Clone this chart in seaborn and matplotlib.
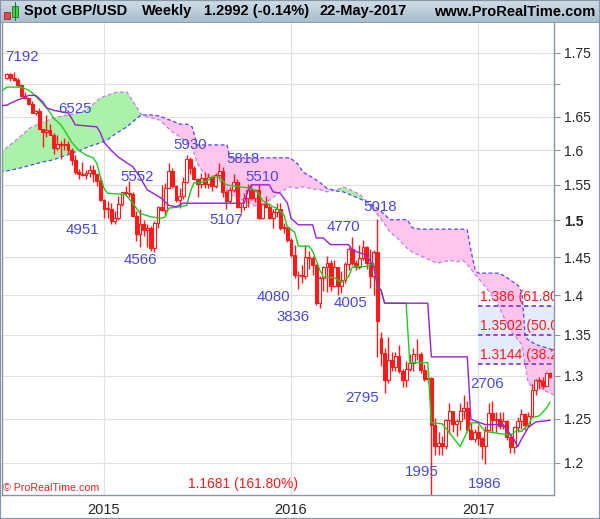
import numpy as np
import pandas as pd
import matplotlib
matplotlib.use("Agg")
import matplotlib.pyplot as plt
from matplotlib.colors import LinearSegmentedColormap
from matplotlib.patches import Rectangle
import seaborn as sns

# weekly GBP/USD candles, first week 30-Jun-2014, last week 22-May-2017
first_week = "2014-06-30"
open_ = [1.7105, 1.7160, 1.7105, 1.7075, 1.6985, 1.6825, 1.6790, 1.6695,
         1.6565, 1.6595, 1.6315, 1.6265, 1.6300, 1.6225, 1.6040, 1.6090,
         1.6085, 1.6090, 1.6000, 1.5860, 1.5680, 1.5660, 1.5645, 1.5665,
         1.5715, 1.5650, 1.5560, 1.5290, 1.5160, 1.5165, 1.4995, 1.5035,
         1.5235, 1.5395, 1.5390, 1.5375, 1.5055, 1.4815, 1.4945, 1.4865,
         1.4900, 1.4625, 1.4965, 1.5180, 1.5140, 1.5450, 1.5700, 1.5490,
         1.5285, 1.5345, 1.5545, 1.5880, 1.5745, 1.5580, 1.5510, 1.5600,
         1.5510, 1.5610, 1.5485, 1.5640, 1.5700, 1.5405, 1.5265, 1.5425,
         1.5545, 1.5185, 1.5180, 1.5310, 1.5430, 1.5315, 1.5420, 1.5040,
         1.5230, 1.5190, 1.5035, 1.5120, 1.5160, 1.4895, 1.4905, 1.4735,
         1.4535, 1.4260, 1.4270, 1.4250, 1.4500, 1.4495, 1.4400, 1.3905,
         1.4230, 1.4365, 1.4425, 1.4120, 1.4370, 1.4125, 1.4195, 1.4405,
         1.4615, 1.4430, 1.4375, 1.4490, 1.4640, 1.4420, 1.4255, 1.4575,
         1.3460, 1.3275, 1.2950, 1.3190, 1.3110, 1.3235, 1.3055, 1.2950,
         1.3080, 1.3155, 1.3265, 1.3260, 1.3070, 1.2965, 1.2970, 1.2430,
         1.2185, 1.2225, 1.2185, 1.2485, 1.2590, 1.2435, 1.2475, 1.2585,
         1.2620, 1.2365, 1.2265, 1.2340, 1.2275, 1.2185, 1.2370, 1.2560,
         1.2485, 1.2490, 1.2410, 1.2470, 1.2290, 1.2175, 1.2400, 1.2475,
         1.2550, 1.2425, 1.2530, 1.2835, 1.2955, 1.2940, 1.2885, 1.3030]
high_ = [1.7180, 1.7180, 1.7192, 1.7100, 1.7015, 1.6880, 1.6800, 1.6745,
         1.6600, 1.6640, 1.6320, 1.6525, 1.6395, 1.6250, 1.6230, 1.6140,
         1.6185, 1.6135, 1.6030, 1.5935, 1.5725, 1.5825, 1.5710, 1.5785,
         1.5785, 1.5660, 1.5620, 1.5300, 1.5270, 1.5240, 1.5130, 1.5345,
         1.5400, 1.5485, 1.5552, 1.5405, 1.5130, 1.5165, 1.5000, 1.4945,
         1.4930, 1.4990, 1.5200, 1.5500, 1.5525, 1.5815, 1.5740, 1.5500,
         1.5460, 1.5615, 1.5930, 1.5900, 1.5770, 1.5600, 1.5675, 1.5690,
         1.5675, 1.5635, 1.5670, 1.5818, 1.5755, 1.5420, 1.5475, 1.5660,
         1.5585, 1.5240, 1.5385, 1.5510, 1.5505, 1.5435, 1.5510, 1.5240,
         1.5335, 1.5240, 1.5160, 1.5240, 1.5240, 1.4960, 1.4930, 1.4765,
         1.4665, 1.4315, 1.4400, 1.4670, 1.4590, 1.4515, 1.4410, 1.4250,
         1.4385, 1.4515, 1.4460, 1.4460, 1.4375, 1.4315, 1.4440, 1.4640,
         1.4770, 1.4470, 1.4670, 1.4730, 1.4645, 1.4610, 1.4595, 1.5018,
         1.3535, 1.3340, 1.3480, 1.3285, 1.3285, 1.3370, 1.3080, 1.3185,
         1.3270, 1.3340, 1.3445, 1.3290, 1.3145, 1.3060, 1.2990, 1.2505,
         1.2340, 1.2295, 1.2495, 1.2675, 1.2590, 1.2500, 1.2675, 1.2775,
         1.2705, 1.2445, 1.2375, 1.2430, 1.2290, 1.2415, 1.2675, 1.2706,
         1.2580, 1.2580, 1.2570, 1.2480, 1.2300, 1.2415, 1.2515, 1.2615,
         1.2565, 1.2580, 1.2905, 1.2965, 1.2990, 1.2990, 1.3048, 1.3045]
low_ = [1.7090, 1.7060, 1.7060, 1.6960, 1.6810, 1.6770, 1.6690, 1.6560,
        1.6535, 1.6310, 1.6052, 1.6205, 1.6230, 1.5950, 1.6000, 1.5875,
        1.6010, 1.5945, 1.5790, 1.5650, 1.5590, 1.5625, 1.5590, 1.5605,
        1.5540, 1.5485, 1.5270, 1.5035, 1.5035, 1.4951, 1.4955, 1.5010,
        1.5195, 1.5335, 1.5330, 1.5055, 1.4725, 1.4635, 1.4780, 1.4635,
        1.4585, 1.4566, 1.4900, 1.5130, 1.5080, 1.5450, 1.5450, 1.5250,
        1.5170, 1.5300, 1.5530, 1.5655, 1.5565, 1.5330, 1.5455, 1.5450,
        1.5460, 1.5410, 1.5460, 1.5600, 1.5330, 1.5165, 1.5240, 1.5400,
        1.5175, 1.5107, 1.5140, 1.5185, 1.5290, 1.5250, 1.5025, 1.5025,
        1.5170, 1.5025, 1.4895, 1.5045, 1.4875, 1.4825, 1.4705, 1.4510,
        1.4230, 1.4080, 1.4155, 1.4210, 1.4350, 1.4270, 1.3880, 1.3836,
        1.4055, 1.4050, 1.4055, 1.4115, 1.4005, 1.4030, 1.4155, 1.4335,
        1.4395, 1.4330, 1.4350, 1.4470, 1.4350, 1.4090, 1.4010, 1.3229,
        1.3120, 1.2795, 1.2915, 1.3060, 1.3060, 1.3040, 1.2865, 1.2865,
        1.3055, 1.3055, 1.3195, 1.3030, 1.2945, 1.2915, 1.1450, 1.2085,
        1.2085, 1.2085, 1.2155, 1.2325, 1.2350, 1.2300, 1.2370, 1.2500,
        1.2350, 1.2250, 1.2235, 1.2200, 1.2040, 1.1986, 1.2360, 1.2345,
        1.2345, 1.2380, 1.2385, 1.2250, 1.2110, 1.2110, 1.2345, 1.2375,
        1.2365, 1.2400, 1.2515, 1.2775, 1.2840, 1.2845, 1.2880, 1.2980]
close_ = [1.7160, 1.7105, 1.7075, 1.6985, 1.6825, 1.6790, 1.6695, 1.6565,
          1.6595, 1.6315, 1.6265, 1.6300, 1.6225, 1.6040, 1.6090, 1.6085,
          1.6090, 1.6000, 1.5860, 1.5680, 1.5660, 1.5645, 1.5665, 1.5715,
          1.5650, 1.5560, 1.5290, 1.5160, 1.5165, 1.4995, 1.5035, 1.5235,
          1.5395, 1.5390, 1.5375, 1.5055, 1.4815, 1.4945, 1.4865, 1.4900,
          1.4625, 1.4965, 1.5180, 1.5140, 1.5450, 1.5700, 1.5490, 1.5285,
          1.5345, 1.5545, 1.5880, 1.5745, 1.5580, 1.5510, 1.5600, 1.5510,
          1.5610, 1.5485, 1.5640, 1.5700, 1.5405, 1.5265, 1.5425, 1.5545,
          1.5185, 1.5180, 1.5310, 1.5430, 1.5315, 1.5420, 1.5040, 1.5230,
          1.5190, 1.5035, 1.5120, 1.5160, 1.4895, 1.4905, 1.4735, 1.4535,
          1.4260, 1.4270, 1.4250, 1.4500, 1.4495, 1.4400, 1.3905, 1.4230,
          1.4365, 1.4425, 1.4120, 1.4370, 1.4125, 1.4195, 1.4405, 1.4615,
          1.4430, 1.4375, 1.4490, 1.4640, 1.4420, 1.4255, 1.4575, 1.3680,
          1.3275, 1.2950, 1.3190, 1.3110, 1.3235, 1.3055, 1.2950, 1.3080,
          1.3155, 1.3265, 1.3260, 1.3070, 1.2965, 1.2970, 1.2430, 1.2185,
          1.2225, 1.2185, 1.2485, 1.2590, 1.2435, 1.2475, 1.2585, 1.2620,
          1.2365, 1.2265, 1.2340, 1.2275, 1.2185, 1.2370, 1.2560, 1.2485,
          1.2490, 1.2410, 1.2470, 1.2290, 1.2175, 1.2400, 1.2475, 1.2550,
          1.2425, 1.2530, 1.2835, 1.2955, 1.2940, 1.2885, 1.3030, 1.2992]

# ichimoku lines (x = week number from first week)
tenkan_wk = [-2, 0, 4, 6, 7, 9, 11, 12, 13, 15, 16, 18, 20, 22, 24, 25, 26, 27, 28, 31,
             33, 35, 37, 40, 43, 44, 45, 48, 50, 51, 52, 54, 56, 57, 59, 61, 65, 68, 70, 71,
             74, 75, 77, 78, 80, 81, 84, 85, 86, 87, 88, 91, 93, 95, 96, 100, 102, 103, 104, 105,
             111, 112, 117, 118, 121, 123, 126, 128, 129, 131, 133, 135, 140, 142, 143, 145, 146, 148, 150, 151]
tenkan = [1.688, 1.696, 1.696, 1.691, 1.687, 1.676, 1.664, 1.657, 1.648, 1.638,
          1.630, 1.612, 1.600, 1.593, 1.589, 1.581, 1.561, 1.545, 1.538, 1.537,
          1.536, 1.524, 1.510, 1.505, 1.503, 1.505, 1.517, 1.519, 1.521, 1.540,
          1.553, 1.553, 1.557, 1.561, 1.561, 1.550, 1.547, 1.545, 1.538, 1.528,
          1.519, 1.517, 1.508, 1.491, 1.484, 1.465, 1.465, 1.458, 1.446, 1.433,
          1.424, 1.423, 1.417, 1.424, 1.437, 1.438, 1.442, 1.411, 1.407, 1.390,
          1.390, 1.316, 1.316, 1.245, 1.244, 1.234, 1.218, 1.235, 1.245, 1.245,
          1.235, 1.234, 1.231, 1.237, 1.235, 1.243, 1.251, 1.253, 1.262, 1.269]
kijun_wk = [-2, 0, 1, 3, 5, 6, 8, 10, 11, 13, 17, 18, 19, 25, 26, 27, 29, 31, 33, 35,
            37, 39, 41, 43, 45, 47, 49, 66, 67, 68, 73, 74, 76, 78, 79, 81, 85, 86, 88, 89,
            90, 95, 96, 98, 100, 102, 103, 104, 105, 117, 118, 128, 129, 133, 138, 139, 141, 142, 143, 145,
            147, 151]
kijun = [1.667, 1.668, 1.671, 1.676, 1.680, 1.683, 1.683, 1.673, 1.664, 1.660,
         1.656, 1.648, 1.638, 1.635, 1.626, 1.612, 1.600, 1.590, 1.583, 1.576,
         1.561, 1.543, 1.537, 1.531, 1.521, 1.519, 1.524, 1.524, 1.541, 1.550,
         1.550, 1.540, 1.538, 1.524, 1.503, 1.494, 1.494, 1.476, 1.476, 1.471,
         1.467, 1.467, 1.460, 1.456, 1.453, 1.437, 1.412, 1.407, 1.390, 1.390,
         1.323, 1.323, 1.249, 1.243, 1.243, 1.237, 1.226, 1.218, 1.226, 1.240,
         1.246, 1.248]
cloud_wk = [-1.9, 0.9, 3.6, 6.4, 10.0, 12.8, 16.7, 20.3, 23.1, 25.9, 27.8, 30.6, 33.4,
            34.8, 36.2, 37.3, 39.0, 40.6, 42.6, 45.4, 48.1, 50.1, 51.5, 52.9, 54.5, 56.5,
            58.4, 61.2, 62.0, 67.6, 70.4, 72.3, 76.0, 78.7, 80.7, 82.4, 85.1, 87.1, 89.0,
            91.8, 93.5, 95.4, 98.2, 100.1, 102.4, 104.6, 106.5, 108.5, 111.3, 112.7, 114.9,
            117.7, 119.6, 123.2, 125.2, 126.8, 128.0, 128.8, 130.2, 131.0, 134.4, 136.6,
            138.5, 139.9, 142.1, 143.2, 144.1, 144.9, 146.3, 148.3, 150.2, 151.9, 153.0]
span_a = [1.596, 1.608, 1.620, 1.633, 1.642, 1.648, 1.653, 1.656, 1.665, 1.679, 1.683,
          1.688, 1.688, 1.676, 1.664, 1.654, 1.650, 1.648, 1.645, 1.630, 1.620, 1.611,
          1.605, 1.581, 1.568, 1.557, 1.561, 1.543, 1.536, 1.524, 1.517, 1.526, 1.540,
          1.547, 1.545, 1.547, 1.544, 1.543, 1.540, 1.543, 1.547, 1.543, 1.536, 1.526,
          1.512, 1.498, 1.484, 1.476, 1.462, 1.457, 1.452, 1.446, 1.442, 1.446, 1.444,
          1.446, 1.440, 1.436, 1.427, 1.423, 1.403, 1.388, 1.369, 1.356, 1.344, 1.338,
          1.313, 1.292, 1.286, 1.286, 1.281, 1.278, 1.277]
span_b = [1.568, 1.571, 1.574, 1.578, 1.583, 1.586, 1.593, 1.600, 1.606, 1.611, 1.615,
          1.626, 1.635, 1.642, 1.648, 1.653, 1.653, 1.653, 1.651, 1.645, 1.639, 1.639,
          1.635, 1.608, 1.608, 1.608, 1.608, 1.608, 1.589, 1.589, 1.589, 1.589, 1.589,
          1.589, 1.581, 1.568, 1.560, 1.553, 1.545, 1.541, 1.540, 1.536, 1.530, 1.526,
          1.519, 1.510, 1.501, 1.501, 1.501, 1.490, 1.488, 1.488, 1.488, 1.488, 1.488,
          1.488, 1.487, 1.464, 1.433, 1.429, 1.429, 1.429, 1.425, 1.420, 1.413, 1.404,
          1.347, 1.344, 1.340, 1.336, 1.334, 1.331, 1.330]

# swing high / low labels
swing_txt = ["7192", "6525", "5552", "4951", "4566", "5930", "5818", "5510", "5107",
             "4080", "3836", "4005", "4770", "5018", "2795", "1995", "1986", "2706"]
swing_wk = [4.2, 18.9, 36.2, 20.9, 37.0, 50.9, 65.7, 70.9, 60.9,
            74.0, 79.6, 95.4, 93.7, 103.8, 98.8, 115.4, 132.7, 133.5]
swing_px = [1.743, 1.662, 1.561, 1.487, 1.446, 1.608, 1.587, 1.561, 1.501,
            1.398, 1.3726, 1.390, 1.491, 1.519, 1.274, 1.190, 1.177, 1.290]

# fibonacci zone
fib_levels = [1.386, 1.3502, 1.3144]
fib_labels = ["1.386 (61.80%)", "1.3502 (50.00%)", "1.3144 (38.20%)"]
fib_start = 131
fib_ext = 1.1681
fib_ext_label = "1.1681 (161.80%)"
fib_ext_wk = 50.4

ytick_vals = [1.2, 1.25, 1.3, 1.35, 1.4, 1.45, 1.5, 1.55, 1.6, 1.65, 1.7, 1.75]
ytick_txt = ["1.2", "1.25", "1.3", "1.35", "1.4", "1.45", "1.5", "1.55", "1.6", "1.65", "", "1.75"]

RED = "#ff1a1a"
GRID = "#e0e0e0"
FRAME = "#8797a8"

sns.set_style("white")
plt.rcParams["font.family"] = ["Liberation Sans", "DejaVu Sans"]

weeks = pd.date_range(first_week, periods=len(close_), freq="7D")
x = np.arange(len(close_))
o = np.array(open_)
c = np.array(close_)
up = c > o
lo = np.minimum(o, c)
hi = np.maximum(np.maximum(o, c), lo * 1.0008)

fig = plt.figure(figsize=(6.0, 5.19), dpi=100)
ax = fig.add_axes([2 / 600, 24 / 519, 552 / 600, 472 / 519])
ax.set_yscale("log")
ax.set_xlim(-1.36, 152.1)
ax.set_ylim(1.165, 1.799)

# fib zone box
ax.fill_between([fib_start - 0.1, 153], fib_levels[2], fib_levels[0], color="#e4ebfb", lw=0, zorder=0.8)

# cloud
ca = np.array(span_a)
cb = np.array(span_b)
ax.fill_between(cloud_wk, ca, cb, where=ca >= cb, interpolate=True, color="#aaf2aa", lw=0, zorder=1)
ax.fill_between(cloud_wk, ca, cb, where=ca < cb, interpolate=True, color="#ffc0ec", alpha=0.92, lw=0, zorder=1)
ax.plot(cloud_wk, span_a, color="#c27ee8", lw=0.9, ls=(0, (3, 2)), zorder=1.5)
ax.plot(cloud_wk, span_b, color="#4a4af0", lw=0.9, ls=(0, (3, 2)), zorder=1.5)

# fib lines + labels (cut off at the price axis, as on the chart)
ax.hlines(fib_levels, fib_start - 0.1, 153, colors="#7a1fc8", linestyles=(0, (3, 2)), lw=1.1, zorder=2)
for lev, lab in zip(fib_levels, fib_labels):
    ax.text(fib_start + 0.5, lev * 1.002, lab, color=RED, fontsize=10, va="bottom", ha="left",
            zorder=6, clip_on=True)
ax.text(fib_ext_wk, fib_ext * 1.001, fib_ext_label, color=RED, fontsize=10, va="bottom", ha="left", zorder=6)

# candles
ax.vlines(x, low_, high_, color=RED, lw=1.0, zorder=3)
ax.bar(x[~up], (hi - lo)[~up], bottom=lo[~up], width=0.8, color=RED, edgecolor=RED, lw=0.8, zorder=4)
ax.bar(x[up], (hi - lo)[up], bottom=lo[up], width=0.8, color="white", edgecolor=RED, lw=0.8, zorder=4)

# tenkan / kijun
sns.lineplot(x=tenkan_wk, y=tenkan, ax=ax, color="#1ccc1c", linewidth=1.0, zorder=5)
sns.lineplot(x=kijun_wk, y=kijun, ax=ax, color="#9a1fd0", linewidth=1.0, zorder=5)

for t, w, p in zip(swing_txt, swing_wk, swing_px):
    ax.text(w, p, t, color="#4848d8", fontsize=10.8, ha="center", va="center", zorder=6)

ax.text(0.002, 0.015, "\u00a9 ProRealTime.com", transform=ax.transAxes, color="#e82020",
        fontsize=7.7, ha="left", va="center", zorder=6)

# axes / ticks
year_idx = [i for i in range(1, len(weeks)) if weeks[i].year != weeks[i - 1].year]
ax.set_xticks(year_idx, labels=[str(weeks[i].year) for i in year_idx])
ax.yaxis.tick_right()
ax.set_yticks(ytick_vals, labels=ytick_txt)
ax.minorticks_off()
ax.tick_params(axis="y", which="major", length=4, width=0.8, color=FRAME, pad=3, labelsize=10,
               right=True, left=False)
ax.tick_params(axis="x", which="major", length=3, width=0.8, color=FRAME, pad=3, labelsize=10.5)
for lbl in ax.get_yticklabels():
    if lbl.get_text() == "1.5":
        lbl.set_fontweight("bold")
ax.grid(True, color=GRID, lw=0.8)
ax.set_axisbelow(True)
ax.set_xlabel("")
ax.set_ylabel("")
for side in ["right", "bottom", "left"]:
    ax.spines[side].set_color(FRAME)
    ax.spines[side].set_linewidth(1.0)
    ax.spines[side].set_visible(True)
ax.spines["top"].set_visible(False)

# header bar
hax = fig.add_axes([0, 1 - 23 / 519, 1, 23 / 519])
grad = np.linspace(0, 1, 50).reshape(-1, 1)
hax.imshow(grad, aspect="auto", extent=[0, 600, 0, 23], origin="upper",
           cmap=LinearSegmentedColormap.from_list("hdr", ["#d0dde8", "#a6bccc"]))
hax.set_xlim(0, 600)
hax.set_ylim(0, 23)
hax.set_xticks([])
hax.set_yticks([])
for side in hax.spines:
    hax.spines[side].set_visible(False)
hax.axhline(0.3, color=FRAME, lw=1.2)
hax.add_patch(Rectangle((3.5, 4.5), 6, 7, facecolor="#ee4444", edgecolor="#883333", lw=0.6))
hax.plot([14.5, 14.5], [3, 21], color="#336633", lw=0.7)
hax.add_patch(Rectangle((12, 6), 5.5, 11, facecolor="#33dd33", edgecolor="#336633", lw=0.6))
header = [(24, "Spot GBP/USD"), (142, "Weekly"), (204, "1.2992 (-0.14%)"),
          (320, "22-May-2017"), (434, "www.ProRealTime.com")]
for hx, htxt in header:
    hax.text(hx, 11.5, htxt, fontsize=10.5, fontweight="bold", color="black", ha="left", va="center")

fig.add_artist(Rectangle((0, 0), 1, 1, transform=fig.transFigure, fill=False, edgecolor=FRAME, lw=1.6))

fig.savefig("out.png", dpi=100)
